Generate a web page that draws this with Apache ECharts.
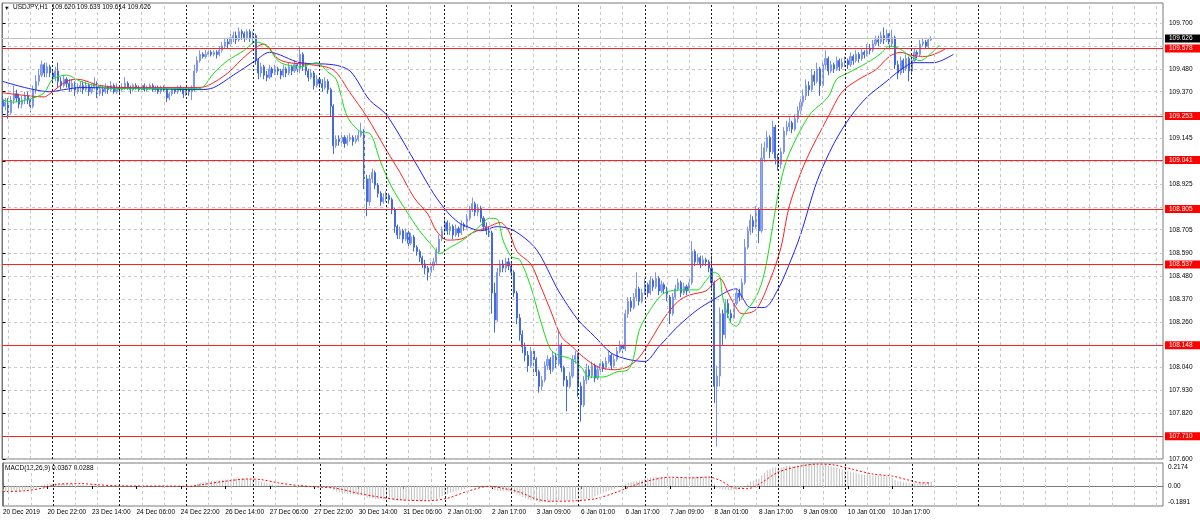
<!DOCTYPE html>
<html><head><meta charset="utf-8">
<script src="https://cdn.jsdelivr.net/npm/echarts@6/dist/echarts.min.js"></script>
<style>html,body{margin:0;padding:0;background:#fff}#c{width:1200px;height:523px}</style>
</head><body><div id="c"></div>
<script>
// ---- data (bar index 0 = 20 Dec 2019 06:00, H1 bars) ----
const firstOpen = 109.33;
const closes = [109.30,109.32,109.27,109.33,109.36,109.34,109.31,109.33,109.35,109.33,
109.30,109.38,109.42,109.45,109.50,109.46,109.49,109.46,109.44,109.47,
109.42,109.40,109.43,109.41,109.39,109.41,109.37,109.39,109.40,109.38,
109.40,109.37,109.39,109.41,109.36,109.38,109.37,109.39,109.38,109.40,
109.37,109.39,109.38,109.39,109.41,109.39,109.38,109.40,109.39,109.38,
109.40,109.38,109.39,109.40,109.38,109.39,109.37,109.39,109.38,109.34,
109.36,109.38,109.37,109.39,109.38,109.36,109.38,109.37,109.38,109.47,
109.52,109.55,109.54,109.55,109.56,109.55,109.56,109.55,109.57,109.59,
109.61,109.60,109.63,109.64,109.62,109.66,109.65,109.63,109.66,109.63,
109.64,109.52,109.46,109.49,109.45,109.44,109.48,109.46,109.48,109.47,
109.45,109.48,109.46,109.49,109.47,109.50,109.48,109.55,109.49,109.47,
109.44,109.46,109.40,109.43,109.41,109.39,109.42,109.38,109.30,109.11,
109.14,109.13,109.15,109.12,109.14,109.15,109.13,109.14,109.16,109.18,
108.95,108.84,108.95,108.98,108.92,108.88,108.84,108.86,108.87,108.85,
108.80,108.72,108.68,108.70,108.66,108.69,108.64,108.67,108.62,108.60,
108.57,108.54,108.52,108.50,108.53,108.55,108.60,108.66,108.70,108.74,
108.70,108.72,108.68,108.71,108.69,108.73,108.72,108.76,108.80,108.83,
108.79,108.81,108.76,108.72,108.70,108.69,108.40,108.27,108.50,108.54,
108.52,108.55,108.53,108.50,108.40,108.28,108.20,108.14,108.10,108.05,
108.12,108.08,108.02,107.95,107.98,108.05,108.08,108.03,108.10,108.06,
108.15,108.04,107.98,107.95,108.00,108.08,108.10,107.95,107.86,107.98,
108.03,108.00,108.05,107.99,108.03,108.06,108.04,108.07,108.10,108.05,
108.08,108.12,108.15,108.13,108.30,108.36,108.33,108.38,108.42,108.36,
108.40,108.44,108.40,108.46,108.43,108.47,108.41,108.44,108.42,108.38,
108.30,108.38,108.42,108.45,108.40,108.43,108.41,108.45,108.60,108.55,
108.57,108.54,108.56,108.55,108.52,108.45,107.95,108.00,108.30,108.20,
108.35,108.30,108.28,108.35,108.40,108.38,108.45,108.62,108.70,108.75,
108.72,108.80,108.70,109.05,109.10,109.15,109.08,109.20,109.05,109.02,
109.08,109.18,109.20,109.22,109.19,109.24,109.28,109.32,109.35,109.40,
109.38,109.45,109.42,109.48,109.40,109.50,109.53,109.47,109.50,109.48,
109.52,109.49,109.51,109.52,109.50,109.54,109.52,109.55,109.53,109.56,
109.55,109.58,109.57,109.60,109.62,109.61,109.64,109.62,109.65,109.60,
109.63,109.50,109.46,109.52,109.48,109.53,109.47,109.52,109.56,109.55,
109.60,109.61,109.59,109.620,109.626];
const highs = [109.35,109.34,109.34,109.35,109.40,109.38,109.36,109.35,109.37,109.37,
109.34,109.40,109.45,109.48,109.52,109.51,109.51,109.50,109.48,109.49,
109.51,109.44,109.45,109.44,109.43,109.43,109.42,109.41,109.42,109.42,
109.42,109.41,109.41,109.44,109.42,109.40,109.40,109.41,109.40,109.42,
109.41,109.41,109.40,109.41,109.44,109.42,109.40,109.41,109.41,109.40,
109.41,109.41,109.40,109.41,109.41,109.40,109.40,109.40,109.40,109.39,
109.37,109.39,109.39,109.40,109.40,109.39,109.39,109.39,109.40,109.50,
109.54,109.57,109.56,109.57,109.57,109.57,109.57,109.57,109.59,109.61,
109.63,109.63,109.65,109.66,109.66,109.68,109.67,109.66,109.67,109.67,
109.66,109.65,109.53,109.51,109.50,109.47,109.50,109.49,109.50,109.49,
109.48,109.50,109.49,109.51,109.50,109.52,109.51,109.59,109.56,109.51,
109.48,109.48,109.47,109.45,109.44,109.43,109.44,109.43,109.39,109.31,
109.16,109.16,109.17,109.16,109.16,109.17,109.16,109.16,109.18,109.22,
109.19,108.97,108.97,109.00,108.99,108.93,108.89,108.88,108.89,108.88,
108.86,108.81,108.73,108.72,108.71,108.71,108.70,108.69,108.68,108.63,
108.61,108.58,108.56,108.53,108.55,108.57,108.62,108.68,108.72,108.76,
108.75,108.74,108.73,108.73,108.72,108.75,108.74,108.78,108.82,108.86,
108.84,108.83,108.82,108.77,108.74,108.72,108.70,108.45,108.52,108.56,
108.56,108.57,108.57,108.55,108.51,108.41,108.30,108.22,108.16,108.12,
108.14,108.13,108.09,108.03,108.00,108.07,108.10,108.09,108.12,108.11,
108.22,108.16,108.05,108.00,108.02,108.10,108.12,108.11,107.97,108.00,
108.06,108.05,108.07,108.06,108.05,108.08,108.07,108.09,108.12,108.11,
108.10,108.14,108.17,108.16,108.32,108.38,108.38,108.40,108.50,108.43,
108.42,108.47,108.45,108.48,108.47,108.50,108.48,108.46,108.45,108.43,
108.39,108.40,108.44,108.47,108.46,108.45,108.44,108.47,108.65,108.61,
108.59,108.58,108.58,108.57,108.56,108.58,108.46,108.05,108.33,108.32,
108.37,108.37,108.32,108.37,108.42,108.42,108.47,108.66,108.72,108.78,
108.77,108.82,108.81,109.12,109.13,109.18,109.16,109.23,109.21,109.07,
109.10,109.20,109.23,109.25,109.23,109.26,109.30,109.34,109.38,109.43,
109.42,109.48,109.47,109.51,109.49,109.52,109.57,109.54,109.52,109.51,
109.54,109.53,109.53,109.54,109.53,109.56,109.55,109.57,109.56,109.58,
109.57,109.60,109.60,109.62,109.64,109.64,109.66,109.68,109.67,109.66,
109.67,109.64,109.52,109.54,109.53,109.55,109.54,109.54,109.58,109.57,
109.62,109.63,109.62,109.63,109.638];
const lows = [109.25,109.28,109.24,109.26,109.31,109.32,109.29,109.29,109.31,109.31,
109.27,109.29,109.36,109.40,109.44,109.44,109.44,109.44,109.41,109.42,
109.39,109.38,109.39,109.39,109.37,109.37,109.35,109.36,109.37,109.36,
109.37,109.35,109.36,109.38,109.34,109.35,109.35,109.36,109.36,109.37,
109.36,109.36,109.36,109.37,109.38,109.38,109.36,109.37,109.38,109.37,
109.37,109.37,109.37,109.38,109.37,109.37,109.36,109.36,109.37,109.32,
109.33,109.35,109.36,109.36,109.37,109.34,109.35,109.35,109.33,109.37,
109.46,109.51,109.53,109.53,109.54,109.54,109.54,109.53,109.54,109.56,
109.58,109.58,109.59,109.61,109.60,109.61,109.62,109.61,109.62,109.61,
109.60,109.50,109.43,109.44,109.43,109.42,109.43,109.44,109.45,109.45,
109.43,109.44,109.44,109.45,109.45,109.46,109.46,109.46,109.47,109.45,
109.42,109.43,109.38,109.39,109.39,109.37,109.38,109.36,109.25,109.07,
109.10,109.11,109.12,109.10,109.11,109.13,109.11,109.12,109.13,109.15,
108.90,108.77,108.82,108.93,108.90,108.86,108.82,108.83,108.84,108.83,
108.78,108.69,108.66,108.66,108.64,108.65,108.62,108.63,108.60,108.58,
108.55,108.52,108.49,108.46,108.48,108.51,108.54,108.59,108.65,108.69,
108.68,108.68,108.66,108.67,108.67,108.68,108.70,108.71,108.75,108.79,
108.77,108.77,108.74,108.70,108.68,108.67,108.30,108.21,108.26,108.48,
108.50,108.50,108.51,108.48,108.38,108.25,108.17,108.11,108.07,108.02,
108.04,108.00,108.00,107.92,107.93,107.97,108.03,108.01,108.02,108.04,
108.05,108.02,107.95,107.83,107.94,107.99,108.06,107.90,107.78,107.85,
107.96,107.98,107.99,107.97,107.98,108.02,108.02,108.03,108.06,108.03,
108.04,108.07,108.11,108.11,108.12,108.28,108.31,108.32,108.36,108.34,
108.35,108.39,108.38,108.39,108.41,108.42,108.39,108.40,108.40,108.36,
108.25,108.29,108.37,108.41,108.38,108.39,108.39,108.40,108.44,108.53,
108.54,108.52,108.53,108.53,108.50,108.42,107.87,107.66,107.95,108.15,
108.18,108.28,108.26,108.27,108.34,108.36,108.37,108.44,108.61,108.68,
108.69,108.71,108.64,108.69,109.03,109.08,109.05,109.07,109.02,108.99,
109.00,109.07,109.16,109.18,109.17,109.18,109.22,109.26,109.30,109.33,
109.35,109.37,109.40,109.41,109.35,109.39,109.48,109.45,109.46,109.46,
109.47,109.47,109.48,109.49,109.48,109.49,109.50,109.51,109.51,109.52,
109.53,109.54,109.55,109.56,109.59,109.59,109.60,109.60,109.61,109.58,
109.59,109.48,109.43,109.45,109.46,109.47,109.42,109.46,109.51,109.53,
109.54,109.59,109.58,109.58,109.614];

// Alligator lines (read as [bar, price])
const jaw = [[0,109.42],[17,109.37],[22,109.38],[28,109.39],[50,109.385],[71,109.38],[76,109.39],[83,109.45],[91,109.52],[96,109.56],[107,109.51],[119,109.50],[125,109.47],[132,109.33],[138,109.26],[148,109.04],[155,108.88],[160,108.79],[164,108.74],[167,108.72],[172,108.70],[178,108.72],[184,108.70],[192,108.61],[200,108.41],[207,108.27],[213,108.19],[219,108.11],[225,108.08],[231,108.07],[236,108.14],[243,108.24],[250,108.32],[256,108.37],[261,108.41],[264,108.42],[266,108.38],[269,108.33],[274,108.33],[279,108.42],[283,108.54],[287,108.68],[293,108.94],[299,109.12],[305,109.25],[311,109.345],[317,109.41],[323,109.475],[328,109.51],[335,109.51],[342,109.55]];
const teeth = [[0,109.365],[6,109.355],[15,109.345],[17,109.36],[23,109.42],[27,109.43],[35,109.40],[45,109.39],[70,109.39],[74,109.40],[81,109.46],[88,109.55],[94,109.60],[99,109.53],[103,109.51],[111,109.50],[119,109.475],[125,109.365],[131,109.25],[138,109.09],[143,108.98],[148,108.86],[153,108.78],[156,108.70],[160,108.655],[165,108.66],[169,108.69],[175,108.72],[179,108.74],[182,108.70],[185,108.60],[190,108.54],[193,108.45],[197,108.32],[201,108.19],[205,108.14],[209,108.09],[214,108.045],[220,108.03],[225,108.045],[229,108.09],[233,108.17],[238,108.28],[243,108.36],[247,108.39],[253,108.41],[256,108.45],[258,108.47],[261,108.40],[263,108.35],[266,108.30],[271,108.32],[276,108.46],[280,108.62],[283,108.82],[289,109.04],[297,109.25],[302,109.37],[308,109.43],[314,109.475],[319,109.54],[323,109.56],[327,109.545],[332,109.54],[339,109.575]];
const lips = [[0,109.33],[4,109.32],[11,109.34],[15,109.365],[18,109.43],[23,109.45],[28,109.42],[33,109.40],[40,109.385],[70,109.385],[72,109.39],[76,109.46],[81,109.52],[87,109.57],[91,109.61],[95,109.59],[99,109.52],[102,109.50],[107,109.49],[113,109.51],[117,109.465],[120,109.43],[124,109.25],[129,109.175],[132,109.17],[136,109.03],[140,108.91],[145,108.80],[150,108.70],[155,108.62],[157,108.59],[161,108.62],[165,108.65],[169,108.69],[173,108.74],[175,108.76],[178,108.755],[180,108.655],[183,108.575],[186,108.56],[190,108.43],[193,108.29],[197,108.13],[200,108.10],[204,108.085],[208,108.045],[211,107.995],[216,107.995],[221,108.02],[225,108.03],[227,108.09],[229,108.22],[233,108.32],[238,108.40],[245,108.415],[250,108.415],[253,108.46],[256,108.50],[258,108.48],[259,108.38],[262,108.255],[264,108.24],[266,108.285],[271,108.38],[274,108.495],[277,108.72],[279,108.88],[282,109.04],[287,109.185],[291,109.27],[297,109.345],[300,109.43],[304,109.46],[311,109.51],[316,109.555],[319,109.59],[323,109.575],[326,109.545],[330,109.52],[334,109.555],[337,109.595]];

// MACD(12,26,9) main (histogram, one per bar) and signal (read as [bar, value])
const macdMain = [-0.050,-0.050,-0.052,-0.050,-0.046,-0.044,-0.042,-0.040,-0.038,-0.036,
-0.034,-0.025,-0.014,-0.003,0.010,0.015,0.020,0.022,0.024,0.025,
0.025,0.024,0.022,0.020,0.018,0.016,0.012,0.010,0.008,0.006,
0.005,0.003,0.002,0.003,0.000,0.000,-0.001,0.000,-0.001,0.000,
-0.002,-0.001,-0.002,-0.001,0.001,0.000,-0.001,0.000,0.000,-0.001,
0.000,-0.001,-0.001,0.000,-0.001,-0.001,-0.002,-0.001,-0.002,-0.005,
-0.005,-0.004,-0.004,-0.003,-0.003,-0.004,-0.003,-0.003,0.000,0.010,
0.020,0.030,0.035,0.040,0.045,0.048,0.050,0.052,0.055,0.058,
0.062,0.064,0.067,0.070,0.070,0.072,0.072,0.071,0.072,0.070,
0.069,0.060,0.048,0.040,0.032,0.025,0.020,0.015,0.012,0.009,
0.006,0.004,0.002,0.002,0.000,0.000,-0.001,0.002,0.000,-0.003,
-0.006,-0.007,-0.010,-0.012,-0.014,-0.016,-0.016,-0.018,-0.022,-0.040,
-0.050,-0.058,-0.064,-0.070,-0.074,-0.077,-0.080,-0.082,-0.082,-0.080,
-0.095,-0.110,-0.115,-0.117,-0.120,-0.123,-0.126,-0.126,-0.126,-0.127,
-0.130,-0.135,-0.140,-0.140,-0.142,-0.140,-0.141,-0.139,-0.140,-0.140,
-0.140,-0.140,-0.140,-0.138,-0.134,-0.130,-0.122,-0.110,-0.097,-0.085,
-0.075,-0.065,-0.058,-0.050,-0.043,-0.035,-0.028,-0.020,-0.012,-0.004,
0.000,0.003,0.004,0.002,0.000,-0.002,-0.020,-0.040,-0.045,-0.048,
-0.050,-0.050,-0.052,-0.056,-0.065,-0.078,-0.090,-0.105,-0.117,-0.128,
-0.133,-0.137,-0.142,-0.150,-0.153,-0.152,-0.150,-0.150,-0.147,-0.145,
-0.138,-0.137,-0.138,-0.140,-0.138,-0.132,-0.126,-0.128,-0.132,-0.128,
-0.120,-0.115,-0.108,-0.100,-0.085,-0.075,-0.065,-0.055,-0.045,-0.035,
-0.025,-0.012,0.000,0.005,0.020,0.030,0.035,0.040,0.045,0.050,
0.060,0.070,0.075,0.080,0.083,0.087,0.087,0.088,0.087,0.083,
0.075,0.074,0.075,0.077,0.075,0.076,0.074,0.076,0.085,0.087,
0.088,0.087,0.087,0.086,0.083,0.075,0.020,-0.020,-0.025,-0.035,
-0.035,-0.040,-0.045,-0.040,-0.035,-0.030,-0.020,0.000,0.020,0.040,
0.050,0.065,0.068,0.100,0.125,0.148,0.158,0.175,0.175,0.172,
0.174,0.182,0.188,0.192,0.190,0.193,0.197,0.203,0.207,0.213,
0.210,0.215,0.210,0.212,0.200,0.202,0.200,0.190,0.185,0.177,
0.172,0.163,0.157,0.150,0.140,0.135,0.127,0.122,0.115,0.112,
0.106,0.104,0.100,0.100,0.100,0.097,0.097,0.093,0.092,0.085,
0.075,0.060,0.045,0.045,0.035,0.035,0.025,0.022,0.024,0.022,
0.028,0.030,0.030,0.034,0.0367];
const macdSignal = [[0,-0.053],[8,-0.045],[15,-0.016],[20,0.018],[28,0.022],[34,0.012],[42,0.001],[60,-0.001],[67,-0.003],[72,0.015],[80,0.045],[88,0.066],[93,0.06],[99,0.03],[106,0.005],[113,-0.008],[120,-0.022],[128,-0.07],[135,-0.103],[143,-0.13],[153,-0.139],[160,-0.115],[167,-0.051],[175,-0.003],[180,-0.022],[186,-0.059],[192,-0.124],[197,-0.144],[205,-0.141],[213,-0.121],[220,-0.066],[227,0.006],[233,0.054],[240,0.083],[248,0.077],[254,0.084],[258,0.053],[263,-0.016],[268,-0.025],[273,0.033],[279,0.132],[287,0.188],[293,0.207],[299,0.199],[306,0.156],[313,0.113],[320,0.093],[326,0.055],[330,0.031],[334,0.0288]];

const levels = [109.578, 109.253, 109.041, 108.805, 108.537, 108.148, 107.710];
const bidPrice = 109.626;
const priceTicks = [107.600,107.710,107.820,107.930,108.040,108.150,108.260,108.370,108.480,108.590,108.705,108.815,108.925,109.035,109.145,109.260,109.370,109.480,109.590,109.700];
const priceLabelTicks = [107.600,107.820,107.930,108.040,108.260,108.370,108.480,108.590,108.705,108.925,109.145,109.370,109.480,109.700];
const macdLabelTicks = [0.2174, 0, -0.1891];
const xLabelBars = [0,16,32,48,64,80,96,112,128,144,160,176,192,208,224,240,256,272,288,304,320];
const xLabelTexts = ['20 Dec 2019','20 Dec 22:00','23 Dec 14:00','24 Dec 06:00','24 Dec 22:00','26 Dec 14:00','27 Dec 06:00','27 Dec 22:00','30 Dec 14:00','31 Dec 06:00','2 Jan 01:00','2 Jan 17:00','3 Jan 09:00','6 Jan 01:00','6 Jan 17:00','7 Jan 09:00','8 Jan 01:00','8 Jan 17:00','9 Jan 09:00','10 Jan 01:00','10 Jan 17:00'];
const daySeps = [18,42,66,90,114,138,159,183,207,231,255,279,303,327,351];
const gridBars = [2,10,26,34,50,58,74,82,98,106,122,130,146,154,167,175,191,199,215,223,239,247,263,271,287,295,311,319,335,343,359,367,375,383,391,399,407,415];

// ---- chart ----
const FONT = "'Liberation Sans Narrow','Liberation Sans',sans-serif";
const FS = 6.5;
const XMIN = -0.2, XMAX = 417.4;
const opens = closes.map((c, i) => i === 0 ? firstOpen : closes[i - 1]);
const candleData = closes.map((c, i) => [i, opens[i], c, lows[i], highs[i]]);
const macdData = macdMain.map((v, i) => [i, v]);

const vGrid = (bars, color, dash) => ({
  silent: true, symbol: 'none', label: { show: false }, animation: false,
  lineStyle: { color: color, type: dash, width: 1 },
  data: bars.map(b => ({ xAxis: b }))
});

const chart = echarts.init(document.getElementById('c'), null, { renderer: 'canvas' });
const xBase = { type: 'value', min: XMIN, max: XMAX, splitLine: { show: false } };

chart.setOption({
  animation: false,
  backgroundColor: '#ffffff',
  textStyle: { fontFamily: FONT },
  grid: [
    { left: 2, right: 37, top: 3, height: 456, show: true, borderColor: '#7a7a7a', borderWidth: 1 },
    { left: 2, right: 37, top: 463, height: 43, show: true, borderColor: '#7a7a7a', borderWidth: 1 }
  ],
  xAxis: [
    Object.assign({}, xBase, { gridIndex: 0, show: false }),
    Object.assign({}, xBase, {
      gridIndex: 1, position: 'bottom',
      axisLine: { show: true, lineStyle: { color: '#7a7a7a' } },
      axisTick: { show: true, customValues: xLabelBars, length: 3, lineStyle: { color: '#000' } },
      axisLabel: {
        show: true, customValues: xLabelBars, margin: 3, align: 'left',
        color: '#000', fontSize: FS, fontFamily: FONT,
        formatter: v => xLabelTexts[xLabelBars.indexOf(Math.round(v))] || ''
      }
    })
  ],
  yAxis: [
    {
      type: 'value', gridIndex: 0, position: 'right', min: 107.6, max: 109.7976,
      axisLine: { show: true, lineStyle: { color: '#7a7a7a' } },
      axisTick: { show: true, customValues: priceTicks, length: 3, inside: false, lineStyle: { color: '#000' } },
      splitLine: { show: true, lineStyle: { color: '#c8c8c8', type: [3, 3], width: 1 } },
      axisLabel: {
        show: true, customValues: priceLabelTicks, margin: 6, color: '#000',
        fontSize: FS, fontFamily: FONT, formatter: v => v.toFixed(3)
      }
    },
    {
      type: 'value', gridIndex: 1, position: 'right', min: -0.1891, max: 0.2174,
      axisLine: { show: true, lineStyle: { color: '#7a7a7a' } },
      axisTick: { show: true, customValues: [0], length: 3, lineStyle: { color: '#000' } },
      splitLine: { show: true, lineStyle: { color: '#c8c8c8', type: [3, 3], width: 1 } },
      axisLabel: {
        show: true, customValues: macdLabelTicks, margin: 5, color: '#000',
        fontSize: FS, fontFamily: FONT,
        formatter: v => v === 0 ? '{m|0.00}' : (v > 0 ? '{t|' + v.toFixed(4) + '}' : '{b|' + v.toFixed(4) + '}'),
        rich: {
          t: { fontSize: FS, fontFamily: FONT, color: '#000', padding: [9, 0, 0, 0] },
          m: { fontSize: FS, fontFamily: FONT, color: '#000' },
          b: { fontSize: FS, fontFamily: FONT, color: '#000', padding: [0, 0, 7, 0] }
        }
      }
    }
  ],
  graphic: [
    { type: 'text', left: 4, top: 5, style: { text: '▼', font: '5.5px ' + FONT, fill: '#000' } },
    { type: 'text', left: 13, top: 4, style: { text: 'USDJPY,H1  109.620 109.638 109.614 109.626', font: FS + 'px ' + FONT, fill: '#000' } },
    { type: 'text', left: 5, top: 465, style: { text: 'MACD(12,26,9) 0.0367 0.0288', font: FS + 'px ' + FONT, fill: '#000' } }
  ],
  series: [
    { type: 'line', xAxisIndex: 0, yAxisIndex: 0, data: [], z: 1, markLine: vGrid(gridBars, '#c8c8c8', [3, 3]) },
    { type: 'line', xAxisIndex: 0, yAxisIndex: 0, data: [], z: 1, markLine: vGrid(daySeps, '#1a1a1a', [2, 2]) },
    { type: 'line', xAxisIndex: 1, yAxisIndex: 1, data: [], z: 1, markLine: vGrid(gridBars, '#c8c8c8', [3, 3]) },
    { type: 'line', xAxisIndex: 1, yAxisIndex: 1, data: [], z: 1, markLine: vGrid(daySeps, '#1a1a1a', [2, 2]) },
    {
      type: 'line', xAxisIndex: 0, yAxisIndex: 0, data: [], z: 2,
      markLine: {
        silent: true, symbol: 'none', animation: false, precision: 3,
        data: [{ yAxis: bidPrice, name: bidPrice.toFixed(3), lineStyle: { color: '#c0c0c0', width: 1, type: 'solid' },
                 label: { backgroundColor: '#000', color: '#fff' } }]
          .concat(levels.map(v => ({ yAxis: v, name: v.toFixed(3) }))),
        lineStyle: { color: '#ff2020', width: 1.2, type: 'solid' },
        label: {
          show: true, position: 'end', distance: 2, formatter: p => p.name,
          backgroundColor: '#ff0000', color: '#fff', fontSize: FS, fontFamily: FONT,
          lineHeight: 8, padding: [0, 9, 0, 4]
        }
      }
    },
    {
      type: 'candlestick', xAxisIndex: 0, yAxisIndex: 0, z: 3,
      data: candleData, encode: { x: 0, y: [1, 2, 3, 4] },
      barWidth: 1.6,
      itemStyle: { color: '#94a9ef', color0: '#4169e1', borderColor: '#7d95eb', borderColor0: '#4169e1', borderWidth: 1 }
    },
    { type: 'line', xAxisIndex: 0, yAxisIndex: 0, z: 4, data: jaw, showSymbol: false, smooth: 0.3, lineStyle: { color: '#2020ff', width: 1 } },
    { type: 'line', xAxisIndex: 0, yAxisIndex: 0, z: 4, data: teeth, showSymbol: false, smooth: 0.3, lineStyle: { color: '#ff2020', width: 1 } },
    { type: 'line', xAxisIndex: 0, yAxisIndex: 0, z: 4, data: lips, showSymbol: false, smooth: 0.3, lineStyle: { color: '#10e010', width: 1 } },
    {
      type: 'bar', xAxisIndex: 1, yAxisIndex: 1, z: 3, data: macdData, barWidth: 1,
      itemStyle: { color: '#c0c0c0' }
    },
    {
      type: 'line', xAxisIndex: 1, yAxisIndex: 1, z: 4, data: macdSignal, showSymbol: false, smooth: 0.3,
      lineStyle: { color: '#ff0000', width: 1, type: [2, 2] }
    }
  ]
});
</script></body></html>
